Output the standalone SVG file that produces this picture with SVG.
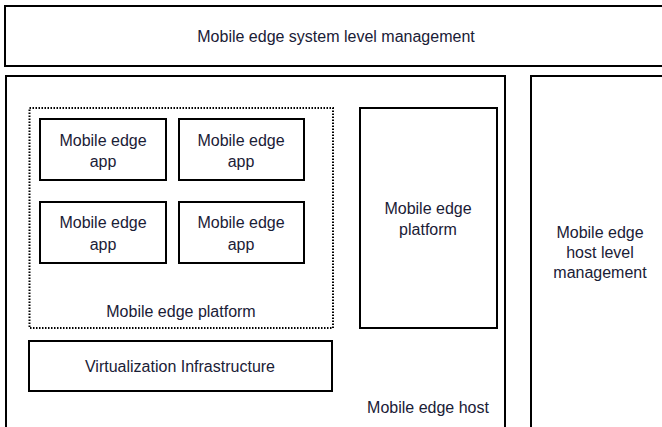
<svg xmlns="http://www.w3.org/2000/svg" width="662" height="427" viewBox="0 0 662 427">
  <style>
    .box { fill: #ffffff; stroke: #000000; stroke-width: 2; }
    .dotted { fill: none; stroke: #000000; stroke-width: 2; stroke-dasharray: 1.5 1.5; }
    text { font-family: "Liberation Sans", Arial, sans-serif; font-size: 16px; fill: #1a2036; text-anchor: middle; }
  </style>
  <rect width="662" height="427" fill="#ffffff"/>

  <g id="system-mgmt">
    <rect class="box" x="5" y="6" width="670" height="60"/>
    <text x="336" y="42">Mobile edge system level management</text>
  </g>

  <g id="host">
    <rect class="box" x="6" y="76" width="499" height="370"/>
    <text x="428" y="413">Mobile edge host</text>
  </g>

  <g id="host-mgmt">
    <rect class="box" x="531" y="76" width="150" height="370"/>
    <text x="600" y="238">Mobile edge</text>
    <text x="600" y="258">host level</text>
    <text x="600" y="278">management</text>
  </g>

  <g id="app-platform-group">
    <rect class="dotted" x="29.5" y="108" width="303.5" height="220"/>
    <text x="181" y="317">Mobile edge platform</text>
  </g>

  <g id="app-1">
    <rect class="box" x="40" y="119" width="126" height="61"/>
    <text x="103" y="146">Mobile edge</text>
    <text x="103" y="167">app</text>
  </g>
  <g id="app-2">
    <rect class="box" x="179" y="119" width="125" height="61"/>
    <text x="241" y="146">Mobile edge</text>
    <text x="241" y="167">app</text>
  </g>
  <g id="app-3">
    <rect class="box" x="40" y="202" width="126" height="61"/>
    <text x="103" y="228">Mobile edge</text>
    <text x="103" y="250">app</text>
  </g>
  <g id="app-4">
    <rect class="box" x="179" y="202" width="125" height="61"/>
    <text x="241" y="228">Mobile edge</text>
    <text x="241" y="250">app</text>
  </g>

  <g id="platform">
    <rect class="box" x="360" y="108" width="137" height="220"/>
    <text x="428" y="214">Mobile edge</text>
    <text x="428" y="235">platform</text>
  </g>

  <g id="virtualization">
    <rect class="box" x="29" y="341" width="303" height="50"/>
    <text x="180" y="372">Virtualization Infrastructure</text>
  </g>

  <g id="connectors"></g>
</svg>
